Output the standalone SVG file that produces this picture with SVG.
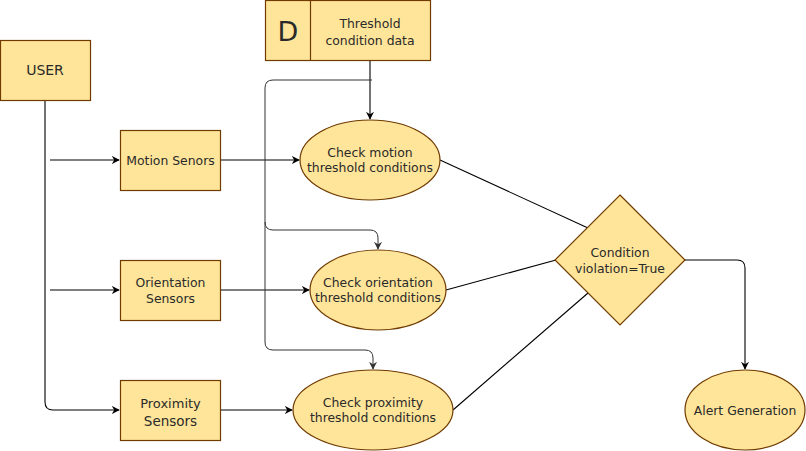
<svg xmlns="http://www.w3.org/2000/svg" width="806" height="451" viewBox="0 0 806 451">
<defs>
<style>
.n{fill:#FFE599;stroke:#6F3B00;stroke-width:1.2}
.t{font-family:"DejaVu Sans",Verdana,sans-serif;font-size:12.4px;fill:#2a2a2a;text-anchor:middle}
.e{fill:none;stroke:#000;stroke-width:1.1}
.g{fill:none;stroke:#333;stroke-width:1}
</style>
<marker id="a" viewBox="0 0 10 10" refX="9" refY="5" markerWidth="8" markerHeight="8" markerUnits="userSpaceOnUse" orient="auto">
<path d="M0,0 L10,5 L0,10 L3,5 Z" fill="#000"/>
</marker>
<marker id="ag" viewBox="0 0 10 10" refX="9" refY="5" markerWidth="8" markerHeight="8" markerUnits="userSpaceOnUse" orient="auto">
<path d="M0,0 L10,5 L0,10 L3,5 Z" fill="#333"/>
</marker>
</defs>
<rect width="806" height="451" fill="#fff"/>
<g id="connectors">
<path class="e" d="M45,100 V402 Q45,410 53,410 H119" marker-end="url(#a)"/>
<path class="e" d="M50,160 H119" marker-end="url(#a)"/>
<path class="e" d="M50,290 H119" marker-end="url(#a)"/>
<path class="e" d="M220,160 H299" marker-end="url(#a)"/>
<path class="e" d="M220,290 H309" marker-end="url(#a)"/>
<path class="e" d="M220,410 H292" marker-end="url(#a)"/>
<path class="e" d="M370,60 V119" marker-end="url(#a)"/>
<path class="g" d="M372,80 H273 Q265,80 265,88 V222 Q265,230 273,230 H370 Q378,230 378,238 V249" marker-end="url(#ag)"/>
<path class="g" d="M265,222 V342 Q265,350 273,350 H365 Q373,350 373,358 V369" marker-end="url(#ag)"/>
<path class="e" d="M440,160 L588,228"/>
<path class="e" d="M446,290 L556,260"/>
<path class="e" d="M453,410 L588,293"/>
<path class="e" d="M685,260 H737 Q745,260 745,268 V369" marker-end="url(#a)"/>
</g>
<g id="user"><rect class="n" x="0.5" y="40.5" width="90" height="60"/><text class="t" x="45" y="75" style="font-size:14px">USER</text></g>
<g id="motion-sensors"><rect class="n" x="120.5" y="130.5" width="100" height="60"/><text class="t" x="170.5" y="165">Motion Senors</text></g>
<g id="orientation-sensors"><rect class="n" x="120.5" y="260.5" width="100" height="60"/><text class="t" x="170.5" y="287">Orientation</text><text class="t" x="170.5" y="303">Sensors</text></g>
<g id="proximity-sensors"><rect class="n" x="120.5" y="380.5" width="100" height="60"/><text class="t" x="170.5" y="408" style="font-size:13px">Proximity</text><text class="t" x="170.5" y="426" style="font-size:13.5px">Sensors</text></g>
<g id="threshold-data"><rect class="n" x="265.5" y="0.5" width="165" height="60"/><line class="n" x1="310.5" y1="0.5" x2="310.5" y2="60.5"/><text class="t" x="288" y="41" style="font-size:27px">D</text><text class="t" x="370" y="28">Threshold</text><text class="t" x="370" y="45">condition data</text></g>
<g id="check-motion"><ellipse class="n" cx="370" cy="160" rx="70" ry="40"/><text class="t" x="370" y="157">Check motion</text><text class="t" x="370" y="172">threshold conditions</text></g>
<g id="check-orientation"><ellipse class="n" cx="378" cy="290" rx="68" ry="40"/><text class="t" x="378" y="287">Check orientation</text><text class="t" x="378" y="302">threshold conditions</text></g>
<g id="check-proximity"><ellipse class="n" cx="373" cy="410" rx="80" ry="40"/><text class="t" x="373" y="407">Check proximity</text><text class="t" x="373" y="422">threshold conditions</text></g>
<g id="condition"><polygon class="n" points="620,195 685,260 620,325 555,260"/><text class="t" x="620" y="257">Condition</text><text class="t" x="620" y="273">violation=True</text></g>
<g id="alert"><ellipse class="n" cx="745" cy="410" rx="60" ry="40"/><text class="t" x="745" y="415">Alert Generation</text></g>
</svg>
